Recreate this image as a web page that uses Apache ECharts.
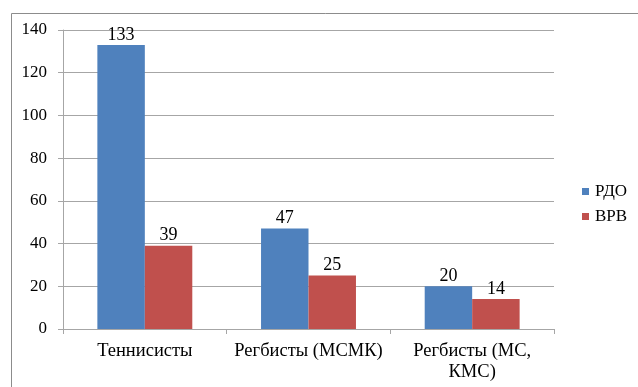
<!DOCTYPE html>
<html>
<head>
<meta charset="utf-8">
<script src="https://cdn.jsdelivr.net/npm/echarts@6/dist/echarts.min.js"></script>
<style>
  html, body { margin: 0; padding: 0; background: #fff; }
  #chart { width: 638px; height: 387px; }
</style>
</head>
<body>
<div id="chart"></div>
<script>
// Groups along the x axis
const categories = ['Теннисисты', 'Регбисты (МСМК)', 'Регбисты (МС,\nКМС)'];
// Series values per group
const rdoValues = [133, 47, 20];
const vrvValues = [39, 25, 14];
// Value axis range
const yMin = 0;
const yMax = 140;
const yStep = 20;

const FONT = '"Liberation Serif", "Times New Roman", serif';
const GRID_GRAY = '#A6A6A6';

const chart = echarts.init(document.getElementById('chart'), null, { renderer: 'canvas' });

const barLabel = {
  show: true,
  position: 'top',
  distance: 1,
  color: '#000',
  fontFamily: FONT,
  fontSize: 18
};

chart.setOption({
  animation: false,
  backgroundColor: '#fff',
  textStyle: { fontFamily: FONT },
  graphic: [{
    type: 'rect',
    left: 9,
    top: 11,
    shape: { width: 700, height: 450 },
    style: { fill: 'none', stroke: '#8C8C8C', lineWidth: 1 },
    silent: true,
    z: -1
  }],
  grid: { left: 63, right: 84, top: 30, bottom: 58 },
  legend: {
    orient: 'vertical',
    left: 577,
    top: 178,
    itemWidth: 7,
    itemHeight: 7,
    itemGap: 8,
    icon: 'rect',
    textStyle: { fontFamily: FONT, fontSize: 17, color: '#000', padding: [0, 0, 0, 1] },
    data: ['РДО', 'ВРВ']
  },
  xAxis: {
    type: 'category',
    data: categories,
    axisLine: { lineStyle: { color: GRID_GRAY, width: 1 } },
    axisTick: { show: true, length: 5, lineStyle: { color: GRID_GRAY } },
    axisLabel: {
      color: '#000',
      fontFamily: FONT,
      fontSize: 18.5,
      margin: 12,
      lineHeight: 20.5,
      interval: 0
    }
  },
  yAxis: {
    type: 'value',
    min: yMin,
    max: yMax,
    interval: yStep,
    axisLine: { show: true, lineStyle: { color: GRID_GRAY, width: 1 } },
    axisTick: { show: true, length: 5, lineStyle: { color: GRID_GRAY } },
    splitLine: { lineStyle: { color: GRID_GRAY, width: 1 } },
    axisLabel: {
      color: '#000',
      fontFamily: FONT,
      fontSize: 17,
      margin: 16
    }
  },
  series: [
    {
      name: 'РДО',
      type: 'bar',
      data: rdoValues,
      barGap: '0%',
      barCategoryGap: '42%',
      itemStyle: { color: '#4F81BD' },
      label: barLabel
    },
    {
      name: 'ВРВ',
      type: 'bar',
      data: vrvValues,
      itemStyle: { color: '#C0504D' },
      label: barLabel
    }
  ]
});
</script>
</body>
</html>
